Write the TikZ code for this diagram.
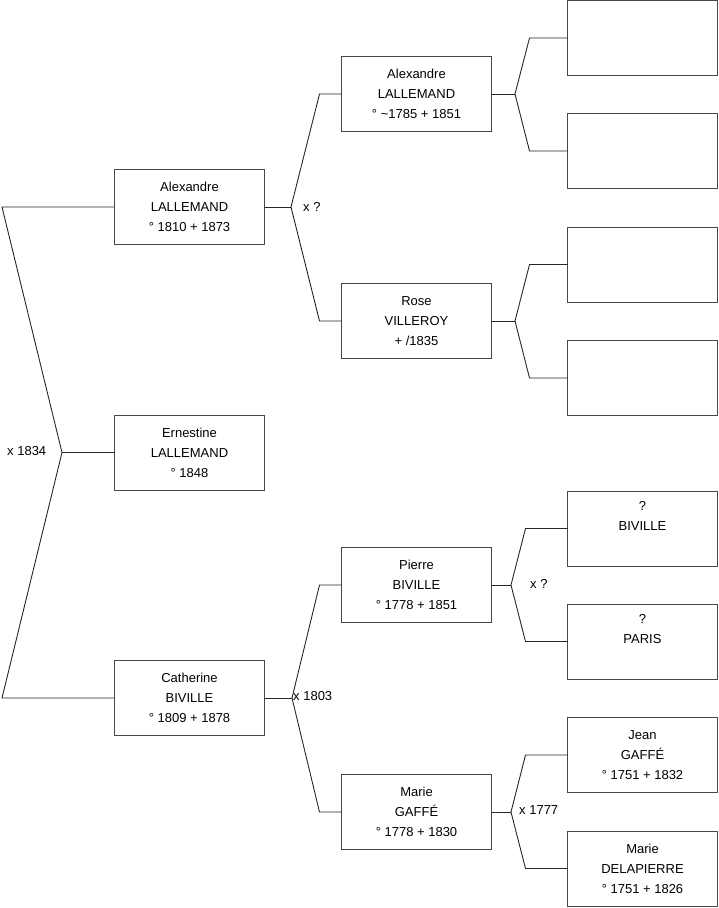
\documentclass[tikz,border=0pt]{standalone}
\usepackage{fontspec}
\setmainfont{Liberation Sans}
\usetikzlibrary{calc}
\begin{document}
\begin{tikzpicture}[x=1pt,y=-1pt,
  person/.style={draw=black!72,line width=1pt,minimum width=150pt,minimum height=75pt,
    align=center,inner sep=0pt,outer sep=0pt,font=\fontsize{13}{20}\selectfont},
  link/.style={draw=black!85,line width=0.9pt},
  union/.style={font=\fontsize{13}{15}\selectfont,inner sep=0pt,anchor=west}]
\useasboundingbox (0,0) rectangle (719,908);
% generation 1
\node[person] (a1) at (189.5,207) {Alexandre\\LALLEMAND\\° 1810 + 1873};
\node[person] (e)  at (189.5,452.5) {Ernestine\\LALLEMAND\\° 1848};
\node[person] (c)  at (189.5,698) {Catherine\\BIVILLE\\° 1809 + 1878};
% generation 2
\node[person] (a2) at (416.5,94) {Alexandre\\LALLEMAND\\° \textasciitilde1785 + 1851};
\node[person] (r)  at (416.5,321) {Rose\\VILLEROY\\+ /1835};
\node[person] (p)  at (416.5,585) {Pierre\\BIVILLE\\° 1778 + 1851};
\node[person] (m)  at (416.5,812) {Marie\\GAFFÉ\\° 1778 + 1830};
% generation 3
\node[person] (g1) at (642.5,38) {};
\node[person] (g2) at (642.5,151) {};
\node[person] (g3) at (642.5,264.5) {};
\node[person] (g4) at (642.5,378) {};
\node[person] (g5) at (642.5,528.5) {?\\BIVILLE\\\strut};
\node[person] (g6) at (642.5,641.5) {?\\PARIS\\\strut};
\node[person] (g7) at (642.5,755) {Jean\\GAFFÉ\\° 1751 + 1832};
\node[person] (g8) at (642.5,868.5) {Marie\\DELAPIERRE\\° 1751 + 1826};
% vertices
\coordinate (v0) at (62,452.5);
\coordinate (v1) at (291,207);
\coordinate (v2) at (292,698);
\coordinate (v3) at (515,94);
\coordinate (v4) at (515,321);
\coordinate (v5) at (511,585);
\coordinate (v6) at (511,812);
% connectors
\draw[link] (e.west) -- (v0);
\draw[link] (a1.west) -- (2,207) -- (v0) -- (2,698) -- (c.west);
\draw[link] (a1.east) -- (v1);
\draw[link] (a2.west) -- ++(-22,0) -- (v1) -- ($(r.west)+(-22,0)$) -- (r.west);
\draw[link] (c.east) -- (v2);
\draw[link] (p.west) -- ++(-22,0) -- (v2) -- ($(m.west)+(-22,0)$) -- (m.west);
\draw[link] (a2.east) -- (v3);
\draw[link] (g1.west) -- ++(-38,0) -- (v3) -- ($(g2.west)+(-38,0)$) -- (g2.west);
\draw[link] (r.east) -- (v4);
\draw[link] (g3.west) -- ++(-38,0) -- (v4) -- ($(g4.west)+(-38,0)$) -- (g4.west);
\draw[link] (p.east) -- (v5);
\draw[link] (g5.west) -- ++(-42,0) -- (v5) -- ($(g6.west)+(-42,0)$) -- (g6.west);
\draw[link] (m.east) -- (v6);
\draw[link] (g7.west) -- ++(-42,0) -- (v6) -- ($(g8.west)+(-42,0)$) -- (g8.west);
% union labels
\node[union] (u0) at (7,451.5) {x 1834};
\node[union] (u1) at (303,206.5) {x ?};
\node[union] (u2) at (293,696.5) {x 1803};
\node[union] (u3) at (530,583.5) {x ?};
\node[union] (u4) at (519,810.5) {x 1777};
\end{tikzpicture}
\end{document}
